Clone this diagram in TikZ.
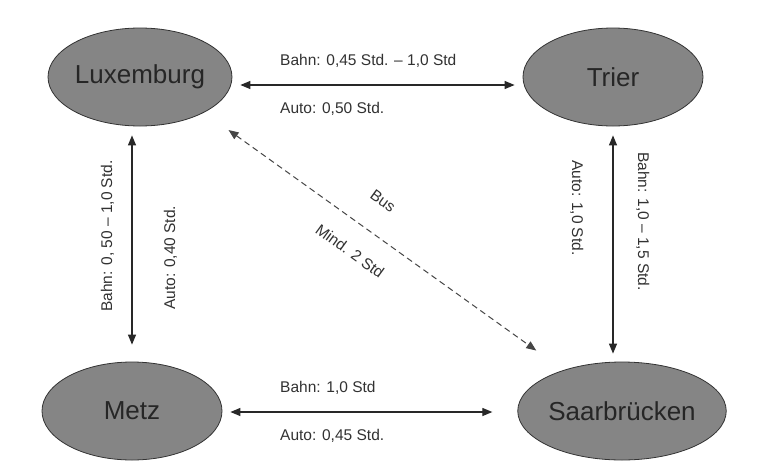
\documentclass[tikz,border=0pt]{standalone}
\usepackage{fontspec}
\setmainfont{Liberation Sans}
\usetikzlibrary{arrows.meta,shapes.geometric}
\definecolor{cityfill}{RGB}{133,133,133}
\definecolor{citytext}{RGB}{38,38,38}
\definecolor{lbltext}{RGB}{50,50,50}
\definecolor{linecol}{RGB}{40,40,40}
\definecolor{buscol}{RGB}{70,70,70}
\tikzset{
 city/.style={ellipse, draw=black!80, line width=0.8pt, fill=cityfill, minimum width=180pt, minimum height=98pt, inner sep=0pt, font=\fontsize{26}{30}\selectfont, text=citytext},
 lbl/.style={font=\fontsize{15.5}{18}\selectfont, text=lbltext, inner sep=0pt},
 link/.style={draw=linecol, line width=1.2pt, {Triangle[length=10pt,width=8pt]}-{Triangle[length=10pt,width=8pt]}},
 buslink/.style={link, dash pattern=on 6pt off 4pt, draw=buscol, line width=1pt}
}
\begin{document}
\begin{tikzpicture}[x=1pt,y=-1pt]
\fill[white] (0,0) rectangle (760,469);
\useasboundingbox (0,0) rectangle (760,469);
\node[city] (lux) at (140,77) {Luxemburg};
\node[city] (trier) at (613,77) {Trier};
\node[city] (metz) at (132,411) {Metz};
\node[city] (saar) at (622,411) {Saarbrücken};
\draw[link, shorten <=8pt, shorten >=8pt] ([yshift=-8pt]lux.east) -- ([yshift=-8pt]trier.west);
\draw[link, shorten <=9pt, shorten >=17pt] (lux.south -| metz.north) -- (metz.north);
\draw[link, shorten <=9pt, shorten >=8pt] (trier.south) -- (trier.south |- saar.north);
\draw[link, shorten <=8pt, shorten >=25pt] ([yshift=-1pt]metz.east) -- ([yshift=-1pt]saar.west);
\draw[buslink, shorten <=30pt, shorten >=33.5pt] (lux.-29.6) -- (saar.145.3);
\node[lbl, anchor=base west] (l1) at (280,65) {Bahn: 0,45 Std. – 1,0 Std};
\node[lbl, anchor=base west] (l2) at (280,113) {Auto: 0,50 Std.};
\node[lbl, anchor=base west] (l3) at (280,392) {Bahn: 1,0 Std};
\node[lbl, anchor=base west] (l4) at (280,440) {Auto: 0,45 Std.};
\node[lbl, rotate=90, anchor=base west] (l5) at (112,312) {Bahn: 0, 50 – 1,0 Std.};
\node[lbl, rotate=90, anchor=base west] (l6) at (175,310) {Auto: 0,40 Std.};
\node[lbl, rotate=-90, anchor=base west] (l7) at (572,160) {Auto: 1,0 Std.};
\node[lbl, rotate=-90, anchor=base west] (l8) at (638,152) {Bahn: 1,0 – 1,5 Std.};
\node[lbl, rotate=-36] (l9) at (383,201) {Bus};
\node[lbl, rotate=-36] (l10) at (350,251) {Mind. 2 Std};
\end{tikzpicture}
\end{document}
